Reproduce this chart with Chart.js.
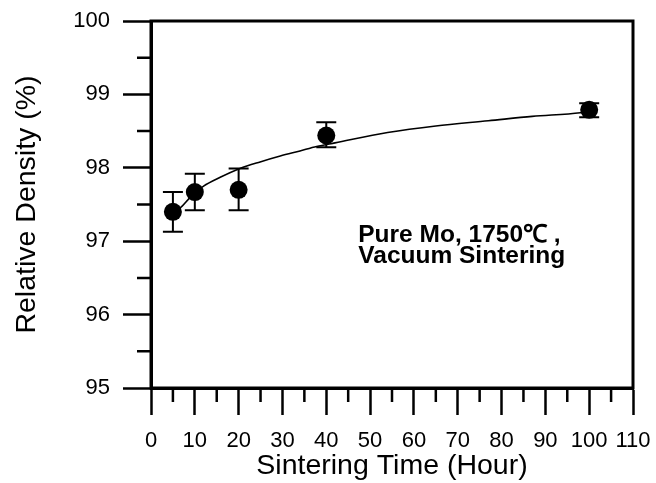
<!DOCTYPE html>
<html>
<head>
<meta charset="utf-8">
<script src="https://cdn.jsdelivr.net/npm/chart.js@4"></script>
<style>
  html, body { margin: 0; padding: 0; background: #fff; }
  canvas { display: block; }
</style>
</head>
<body>
<canvas id="density-chart" width="656" height="483"></canvas>
<script>
'use strict';

// measured points
const timeHours = [5, 10, 20, 40, 100];
const density = [97.40, 97.67, 97.70, 98.44, 98.79];
const errLow = [97.13, 97.42, 97.42, 98.28, 98.69];
const errHigh = [97.67, 97.92, 97.99, 98.62, 98.88];

// fitted curve
const fitTime = [5, 6.6, 9, 12, 15.8, 20.3, 24.9, 29.5, 34, 37.8, 42, 54, 65, 77, 87, 98, 100];
const fitDensity = [97.40, 97.45, 97.60, 97.75, 97.87, 97.99, 98.08, 98.16, 98.23, 98.29, 98.34, 98.48, 98.57, 98.64, 98.70, 98.75, 98.77];

const xMinorTicks = [5, 15, 25, 35, 45, 55, 65, 75, 85, 95, 105];
const yMinorTicks = [95.5, 96.5, 97.5, 98.5, 99.5];

const noteLines = ['Pure Mo, 1750\u2103 ,', 'Vacuum Sintering'];

const FONT = '"Liberation Sans", Arial, sans-serif';

function createDensityChart() {
    const Chart = window.Chart;
    const ctx = document.getElementById('density-chart').getContext('2d');

    // error bars, frame, minor ticks and the note
    const extras = {
        id: 'extras',
        beforeDatasetsDraw(chart) {
            const { ctx, scales: { x, y } } = chart;
            ctx.save();
            ctx.strokeStyle = '#000';
            ctx.lineWidth = 2;
            timeHours.forEach((t, i) => {
                const px = x.getPixelForValue(t);
                const lo = y.getPixelForValue(errLow[i]);
                const hi = y.getPixelForValue(errHigh[i]);
                ctx.beginPath();
                ctx.moveTo(px, lo); ctx.lineTo(px, hi);
                ctx.moveTo(px - 10, lo); ctx.lineTo(px + 10, lo);
                ctx.moveTo(px - 10, hi); ctx.lineTo(px + 10, hi);
                ctx.stroke();
            });
            ctx.restore();
        },
        afterDraw(chart) {
            const { ctx, chartArea: a, scales: { x, y } } = chart;
            ctx.save();
            ctx.strokeStyle = '#000';
            ctx.lineWidth = 3;
            ctx.strokeRect(a.left, a.top, a.right - a.left, a.bottom - a.top);

            ctx.lineWidth = 2.5;
            ctx.beginPath();
            xMinorTicks.forEach(v => {
                const px = x.getPixelForValue(v);
                ctx.moveTo(px, a.bottom); ctx.lineTo(px, a.bottom + 14);
            });
            yMinorTicks.forEach(v => {
                const py = y.getPixelForValue(v);
                ctx.moveTo(a.left - 14, py); ctx.lineTo(a.left, py);
            });
            ctx.stroke();

            ctx.fillStyle = '#000';
            ctx.font = 'bold 24.5px ' + FONT;
            ctx.textBaseline = 'alphabetic';
            ctx.textAlign = 'left';
            const tx = x.getPixelForValue(47.3);
            ctx.fillText(noteLines[0], tx, y.getPixelForValue(96.99));
            ctx.fillText(noteLines[1], tx, y.getPixelForValue(96.70));
            ctx.restore();
        }
    };

    new Chart(ctx, {
        data: {
            datasets: [{
                type: 'scatter',
                data: timeHours.map((t, i) => ({ x: t, y: density[i] })),
                pointRadius: 9,
                pointBackgroundColor: '#000',
                pointBorderWidth: 0
            }, {
                type: 'line',
                data: fitTime.map((t, i) => ({ x: t, y: fitDensity[i] })),
                borderColor: '#000',
                borderWidth: 1.6,
                pointRadius: 0,
                cubicInterpolationMode: 'monotone',
                fill: false
            }]
        },
        options: {
            responsive: false,
            animation: false,
            devicePixelRatio: 1,
            layout: { padding: { top: 21, right: 23, left: 0, bottom: 0 } },
            plugins: {
                legend: { display: false },
                tooltip: { enabled: false }
            },
            scales: {
                x: {
                    type: 'linear',
                    min: 0,
                    max: 110,
                    afterFit: s => {
                        s.height = 95;
                        s.paddingLeft = 0;
                        s.paddingRight = 0;
                    },
                    border: { display: true, color: '#000', width: 3 },
                    grid: {
                        drawOnChartArea: false,
                        drawTicks: true,
                        tickLength: 27,
                        tickWidth: 2.5,
                        tickColor: c => (c.tick && c.tick.value % 10 === 0) ? '#000' : 'rgba(0,0,0,0)'
                    },
                    ticks: {
                        stepSize: 5,
                        autoSkip: false,
                        maxRotation: 0,
                        padding: 13,
                        color: '#000',
                        font: { family: FONT, size: 22 },
                        callback: v => (v % 10 === 0 ? v : '')
                    },
                    title: {
                        display: true,
                        text: 'Sintering Time (Hour)',
                        color: '#000',
                        font: { family: FONT, size: 28.5 },
                        padding: { top: 0, bottom: 0 }
                    }
                },
                y: {
                    type: 'linear',
                    min: 95,
                    max: 100,
                    afterFit: s => {
                        s.width = 151;
                        s.paddingTop = 0;
                        s.paddingBottom = 0;
                    },
                    border: { display: true, color: '#000', width: 3 },
                    grid: {
                        drawOnChartArea: false,
                        drawTicks: true,
                        tickLength: 28,
                        tickWidth: 2.5,
                        tickColor: c => (c.tick && Number.isInteger(c.tick.value)) ? '#000' : 'rgba(0,0,0,0)'
                    },
                    ticks: {
                        stepSize: 0.5,
                        autoSkip: false,
                        padding: 13,
                        color: '#000',
                        font: { family: FONT, size: 22 },
                        callback: v => (Number.isInteger(v) ? v : '')
                    },
                    title: {
                        display: true,
                        text: 'Relative Density (%)',
                        color: '#000',
                        font: { family: FONT, size: 28.5 },
                        padding: { top: 10, bottom: 0 }
                    }
                }
            }
        },
        plugins: [extras]
    });
}

createDensityChart();
</script>
</body>
</html>
